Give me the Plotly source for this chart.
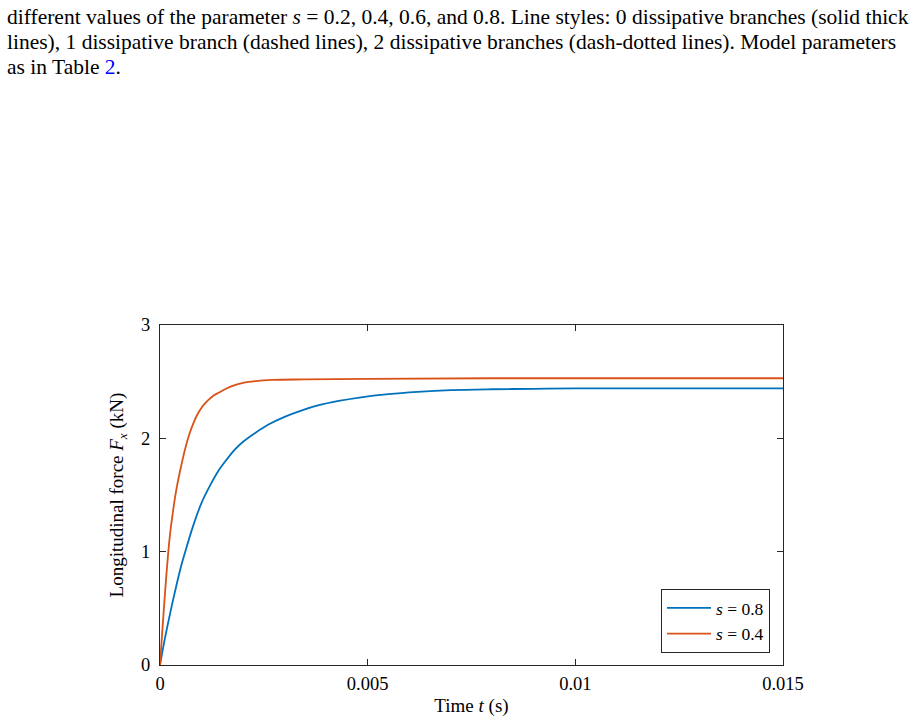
import plotly.graph_objects as go

# ---- data ----
t_s08 = [0, 0.0001, 0.0002, 0.0003, 0.0004, 0.0005, 0.0006, 0.0008, 0.001, 0.0012,
         0.0014, 0.0016, 0.0018, 0.002, 0.0023, 0.0026, 0.003, 0.0034, 0.0038, 0.0043,
         0.0048, 0.0055, 0.0062, 0.007, 0.008, 0.009, 0.010, 0.012, 0.015]
F_s08 = [0, 0.20, 0.38, 0.55, 0.71, 0.86, 0.99, 1.23, 1.43, 1.58,
         1.71, 1.81, 1.90, 1.97, 2.05, 2.12, 2.19, 2.245, 2.29, 2.33,
         2.36, 2.39, 2.41, 2.425, 2.433, 2.437, 2.44, 2.44, 2.44]

t_s04 = [0, 0.00005, 0.0001, 0.00015, 0.0002, 0.00025, 0.0003, 0.00035, 0.0004, 0.0005,
         0.0006, 0.0007, 0.0008, 0.0009, 0.001, 0.0011, 0.0012, 0.0013, 0.0014, 0.0016,
         0.0018, 0.002, 0.0023, 0.0027, 0.0035, 0.005, 0.008, 0.015]
F_s04 = [0, 0.27, 0.53, 0.78, 1.0, 1.18, 1.32, 1.45, 1.56, 1.74,
         1.90, 2.03, 2.13, 2.21, 2.27, 2.315, 2.35, 2.38, 2.40, 2.44,
         2.47, 2.49, 2.505, 2.515, 2.52, 2.525, 2.53, 2.53]

series_names = ["<i>s</i> = 0.8", "<i>s</i> = 0.4"]
series_colors = ["#0072BD", "#D95319"]

x_ticks = [0, 0.005, 0.01, 0.015]
x_ticklabels = ["0", "0.005", "0.01", "0.015"]
y_ticks = [0, 1, 2, 3]
y_ticklabels = ["0", "1", "2", "3"]

caption_lines = [
    "different values of the parameter <i>s</i> = 0.2, 0.4, 0.6, and 0.8. Line styles: 0 dissipative branches (solid thick",
    "lines), 1 dissipative branch (dashed lines), 2 dissipative branches (dash-dotted lines). Model parameters",
    "as in Table <span style='color:#0000FF'>2</span>.",
]

FONT = "Liberation Serif, serif"
AX = "#262626"

fig = go.Figure()
for tx, fy, name, col in [(t_s08, F_s08, series_names[0], series_colors[0]),
                          (t_s04, F_s04, series_names[1], series_colors[1])]:
    fig.add_trace(go.Scatter(x=tx, y=fy, mode="lines", name=name,
                             line=dict(color=col, width=1.8, shape="spline", smoothing=1.0)))

W, H = 915, 722
L, R, T, B = 160, 132, 325, 57
plot_w = W - L - R
plot_h = H - T - B

annotations = []
line_y_px = [17, 42, 67]
for txt, ypx in zip(caption_lines, line_y_px):
    annotations.append(dict(
        text=txt, xref="paper", yref="paper",
        x=(5 - L) / plot_w, y=(H - B - ypx) / plot_h,
        xanchor="left", yanchor="middle", showarrow=False,
        font=dict(family=FONT, size=21.5, color="#000000")))

fig.update_layout(
    width=W, height=H,
    margin=dict(l=L, r=R, t=T, b=B, autoexpand=False),
    paper_bgcolor="white", plot_bgcolor="white",
    font=dict(family=FONT, size=18, color="#000000"),
    showlegend=True,
    legend=dict(x=(770 - L) / plot_w, y=(H - B - 653) / plot_h,
                xanchor="right", yanchor="bottom",
                bgcolor="white", bordercolor=AX, borderwidth=1,
                font=dict(family=FONT, size=17.5), tracegroupgap=0,
                itemwidth=44),
    annotations=annotations,
    xaxis=dict(range=[0, 0.015], tickvals=x_ticks, ticktext=x_ticklabels,
               ticks="inside", ticklen=6, tickcolor=AX, tickwidth=1,
               showline=True, linecolor=AX, linewidth=1, mirror="ticks",
               showgrid=False, zeroline=False, ticklabelstandoff=2,
               automargin=False,
               title=dict(text="Time <i>t</i> (s)", font=dict(family=FONT, size=19), standoff=5),
               tickfont=dict(family=FONT, size=18.5)),
    yaxis=dict(range=[0, 3], tickvals=y_ticks, ticktext=y_ticklabels,
               ticks="inside", ticklen=6, tickcolor=AX, tickwidth=1,
               showline=True, linecolor=AX, linewidth=1, mirror="ticks",
               showgrid=False, zeroline=False, ticklabelstandoff=5,
               automargin=False,
               title=dict(text="Longitudinal force <i>F<sub>x</sub></i> (kN)",
                          font=dict(family=FONT, size=19), standoff=12),
               tickfont=dict(family=FONT, size=18.5)),
)

fig.write_html("out.html")
